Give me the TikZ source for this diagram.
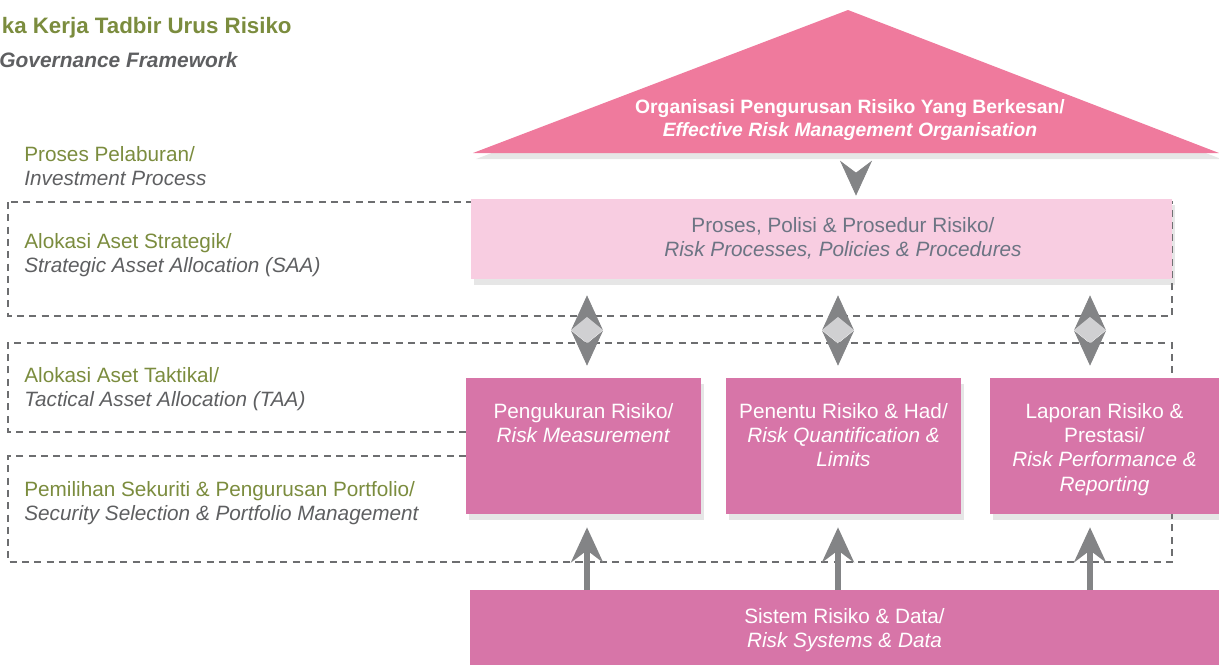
\documentclass[tikz,border=0pt]{standalone}
\usepackage{fontspec}
\setmainfont{Liberation Sans}
\usetikzlibrary{arrows.meta}
\usetikzlibrary{shadows}
\usetikzlibrary{positioning}

\definecolor{leafgreen}{HTML}{7B8C3E}
\definecolor{inkgray}{HTML}{5E5F61}
\definecolor{slate}{HTML}{6C7483}
\definecolor{roofpink}{HTML}{EF7A9D}
\definecolor{palepink}{HTML}{F8CDE1}
\definecolor{orchid}{HTML}{D775A8}
\definecolor{dashgray}{HTML}{6D6E70}
\definecolor{tipgray}{HTML}{838486}
\definecolor{gemgray}{HTML}{D0D0D2}

\tikzset{
  dashframe/.style={dashgray, line width=1.1pt, dash pattern=on 4pt off 3pt},
  softshadow/.style={drop shadow={shadow xshift=1.5pt, shadow yshift=-3.5pt, opacity=0.2}},
  layer/.style={anchor=west, align=left, inner sep=0pt, text=leafgreen,
    font=\fontsize{11.8}{13.6}\selectfont},
  headline/.style={anchor=east, inner sep=0pt, font=\fontsize{12.7}{15}\selectfont\bfseries},
  rooftext/.style={align=center, inner sep=0pt, text=white,
    font=\fontsize{11}{13.6}\selectfont\bfseries},
  procbox/.style={fill=palepink, softshadow, inner sep=0pt},
  rowbox/.style={fill=orchid, softshadow, inner sep=0pt,
    minimum height=2.72cm},
  rowtext/.style={align=center, inner sep=0pt, text=white,
    font=\fontsize{11.8}{13.9}\selectfont},
  bigtip/.style={-{Stealth[length=0.7cm, width=0.64cm, inset=0.24cm]}},
  downtip/.style={bigtip, tipgray, line width=0.4pt},
  uparrow/.style={bigtip, tipgray, line width=3.4pt},
  gemarrow/.style={{Stealth[length=0.7cm, width=0.64cm, inset=0.26cm]}-{Stealth[length=0.7cm, width=0.64cm, inset=0.26cm]},
    tipgray, line width=0.4pt}
}

\begin{document}
\begin{tikzpicture}[x=0.02cm, y=-0.02cm]
  \useasboundingbox (0,0) rectangle (1219,664);

  % title
  \node[headline, text=leafgreen] (title) at (292,28) {ka Kerja Tadbir Urus Risiko};
  \node[headline, text=inkgray, font=\fontsize{11.9}{15}\selectfont\bfseries\itshape] (subtitle) at (238,60) {Governance Framework};

  % process layers
  \draw[dashframe] (8,202) rectangle (1172,316);
  \draw[dashframe] (466,432) -- (8,432) -- (8,343) -- (1172,343) -- (1172,378);
  \draw[dashframe] (466,456) -- (8,456) -- (8,562) -- (1172,562) -- (1172,514);

  \node[layer] (invest) at (24,166) {Proses Pelaburan/\\\textcolor{inkgray}{\itshape Investment Process}};
  \node[layer] (saa) at (24,255.5) {Alokasi Aset Strategik/\\\textcolor{inkgray}{\itshape Strategic Asset Allocation (SAA)}};
  \node[layer] (taa) at (24,389.5) {Alokasi Aset Taktikal/\\\textcolor{inkgray}{\itshape Tactical Asset Allocation (TAA)}};
  \node[layer] (ssp) at (24,503) {Pemilihan Sekuriti \& Pengurusan Portfolio/\\\textcolor{inkgray}{\itshape Security Selection \& Portfolio Management}};

  % roof
  \coordinate (eaveL) at (473,153);
  \coordinate (eaveR) at (1219,153);
  \coordinate (ridge) at (848,10);
  \coordinate (eaveM) at (856,153);
  \fill[roofpink, softshadow] (eaveL) -- (ridge) -- (eaveR) -- cycle;
  \node[rooftext] (roof) at (850,120) {Organisasi Pengurusan Risiko Yang Berkesan/\\\textit{Effective Risk Management Organisation}};

  % boxes
  \node[procbox, minimum width=14.02cm, minimum height=1.6cm] (proc) at (821.5,239) {};
  \node[align=center, inner sep=0pt, text=slate, font=\fontsize{11.8}{13.6}\selectfont] (proclabel) at (843,238)
    {Proses, Polisi \& Prosedur Risiko/\\\textit{Risk Processes, Policies \& Procedures}};

  \node[rowbox, minimum width=4.7cm] (meas) at (583.5,446) {};
  \node[rowbox, minimum width=4.7cm] (quant) at (843.5,446) {};
  \node[rowbox, minimum width=4.58cm] (perf) at (1104.5,446) {};
  \node[rowtext, below=0.5cm of meas.north] (measlabel) {Pengukuran Risiko/\\\textit{Risk Measurement}};
  \node[rowtext, below=0.5cm of quant.north] (quantlabel) {Penentu Risiko \& Had/\\\textit{Risk Quantification \&}\\\textit{Limits}};
  \node[rowtext, below=0.5cm of perf.north] (perflabel) {Laporan Risiko \&\\Prestasi/\\\textit{Risk Performance \&}\\\textit{Reporting}};

  \node[fill=orchid, inner sep=0pt, minimum width=14.98cm, minimum height=1.6cm,
    align=center, text=white, font=\fontsize{11.8}{13.6}\selectfont] (sys) at (844.5,630)
    {Sistem Risiko \& Data/\\\textit{Risk Systems \& Data}};

  % arrows
  \coordinate (col1) at (587,590);
  \coordinate (col2) at (838,590);
  \coordinate (col3) at (1090,590);

  \draw[downtip, shorten <=0.42cm, shorten >=0.06cm] (eaveM) -- (eaveM |- proc.north);

  \draw[gemarrow, shorten <=0.32cm, shorten >=0.24cm] (col1 |- proc.south) -- (col1 |- meas.north);
  \draw[gemarrow, shorten <=0.32cm, shorten >=0.24cm] (col2 |- proc.south) -- (col2 |- quant.north);
  \draw[gemarrow, shorten <=0.32cm, shorten >=0.24cm] (col3 |- proc.south) -- (col3 |- perf.north);
  \fill[gemgray] (587,317) -- (603,330) -- (587,343) -- (571,330) -- cycle;
  \fill[gemgray] (838,317) -- (854,330) -- (838,343) -- (822,330) -- cycle;
  \fill[gemgray] (1090,317) -- (1106,330) -- (1090,343) -- (1074,330) -- cycle;

  \draw[uparrow, shorten >=0.26cm] (col1) -- (col1 |- meas.south);
  \draw[uparrow, shorten >=0.26cm] (col2) -- (col2 |- quant.south);
  \draw[uparrow, shorten >=0.26cm] (col3) -- (col3 |- perf.south);
\end{tikzpicture}
\end{document}
